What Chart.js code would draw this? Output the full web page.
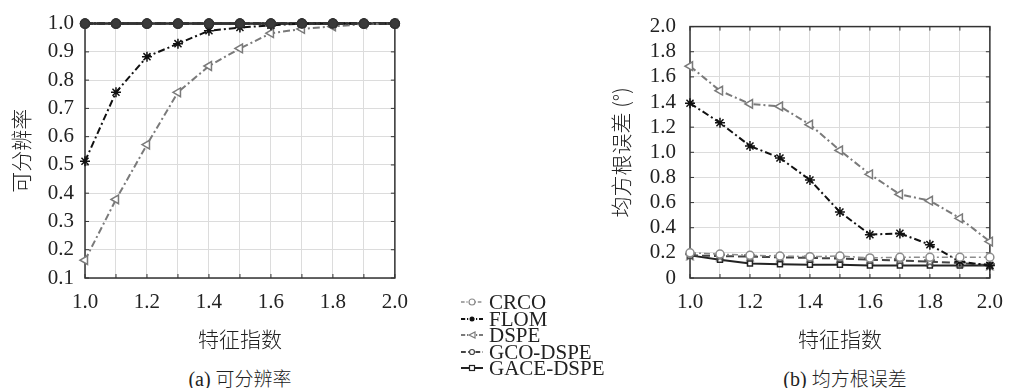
<!DOCTYPE html>
<html>
<head>
<meta charset="utf-8">
<script src="https://cdn.jsdelivr.net/npm/chart.js@4.4.0/dist/chart.umd.min.js"></script>
<style>
  body { margin: 0; background: #fff; width: 1015px; height: 388px; overflow: hidden; position: relative; }
  .box { position: absolute; top: 0; }
  .cap { position: absolute; top: 364px; font: 20px "Liberation Serif", serif; color: #222; white-space: nowrap; transform: translateX(-50%); }
  .cap span { font-family: "Noto Sans CJK SC", sans-serif; font-size: 19px; font-weight: 300; }
  #legend { position: absolute; left: 460px; top: 294px; font: 21px/16.5px "Liberation Serif", serif; color: #222; }
  #legend div { height: 16.5px; display: flex; align-items: center; }
  #legend svg { margin-right: 5px; }
</style>
</head>
<body>
<div class="box" style="left:0;width:420px;height:360px"><canvas id="res-chart"></canvas></div>
<div class="box" style="left:590px;width:425px;height:360px"><canvas id="rmse-chart"></canvas></div>
<div class="cap" style="left:240px">(a) <span>可分辨率</span></div>
<div class="cap" style="left:845px">(b) <span>均方根误差</span></div>
<div id="legend"></div>
<script>
var xValues = [1.0, 1.1, 1.2, 1.3, 1.4, 1.5, 1.6, 1.7, 1.8, 1.9, 2.0];
var seriesNames = ['CRCO', 'FLOM', 'DSPE', 'GCO-DSPE', 'GACE-DSPE'];

// (a) resolution probability
var resCRCO = [1, 1, 1, 1, 1, 1, 1, 1, 1, 1, 1];
var resFLOM = [0.513, 0.757, 0.883, 0.929, 0.975, 0.986, 0.994, 1, 1, 1, 1];
var resDSPE = [0.163, 0.378, 0.572, 0.757, 0.85, 0.912, 0.966, 0.981, 0.99, 0.998, 1];
var resGCO = [1, 1, 1, 1, 1, 1, 1, 1, 1, 1, 1];
var resGACE = [1, 1, 1, 1, 1, 1, 1, 1, 1, 1, 1];

// (b) RMSE in degrees
var rmseCRCO = [0.20, 0.19, 0.18, 0.175, 0.17, 0.175, 0.16, 0.165, 0.165, 0.165, 0.165];
var rmseFLOM = [1.39, 1.235, 1.05, 0.955, 0.78, 0.525, 0.345, 0.355, 0.265, 0.13, 0.10];
var rmseDSPE = [1.685, 1.49, 1.385, 1.365, 1.22, 1.015, 0.825, 0.665, 0.615, 0.475, 0.29];
var rmseGCO = [0.18, 0.175, 0.17, 0.165, 0.16, 0.155, 0.145, 0.14, 0.13, 0.12, 0.10];
var rmseGACE = [0.18, 0.145, 0.115, 0.11, 0.105, 0.105, 0.10, 0.10, 0.10, 0.10, 0.10];

var latin = '"Liberation Serif", serif';
var cjk = '"Noto Sans CJK SC", sans-serif';

function starImage(color) {
	var c = document.createElement('canvas');
	c.width = 11; c.height = 11;
	var g = c.getContext('2d');
	g.beginPath();
	for (var i = 0; i < 10; i++) {
		var r = i % 2 ? 2.2 : 5;
		var a = -Math.PI / 2 + i * Math.PI / 5;
		g.lineTo(5.5 + r * Math.cos(a), 5.5 + r * Math.sin(a));
	}
	g.closePath();
	g.fillStyle = '#fff';
	g.fill();
	g.strokeStyle = color;
	g.lineWidth = 1.3;
	g.stroke();
	return c;
}

var styles = [
	{ color: '#8c8c8c', width: 1.5, dash: [6, 3, 2, 3], point: 'circle', radius: 4, fill: '#fff', rot: 0 },
	{ color: '#111', width: 2, dash: [7, 3, 2, 3], point: 'star', radius: 5, fill: '#111', rot: 0 },
	{ color: '#7a7a7a', width: 2, dash: [7, 3, 2, 3], point: 'triangle', radius: 5, fill: '#fff', rot: -90 },
	{ color: '#444', width: 2, dash: [8, 4], point: starImage('#444'), radius: 5, fill: '#fff', rot: 0 },
	{ color: '#222', width: 2, dash: [], point: 'rect', radius: 3.5, fill: '#fff', rot: 0 }
];

function makeDatasets(lists, overlapDark) {
	return lists.map(function (vals, i) {
		var s = styles[i];
		// in panel (a) three curves sit on top of each other at 1.0, the stacked marks read as dark dots
		var dark = overlapDark && (i === 0 || i === 3 || i === 4);
		return {
			label: seriesNames[i],
			data: vals.map(function (v, j) { return { x: xValues[j], y: v }; }),
			borderColor: dark ? '#333' : s.color,
			borderWidth: dark ? 2.5 : s.width,
			borderDash: s.dash,
			pointStyle: dark ? 'circle' : s.point,
			pointRadius: dark ? 4.5 : s.radius,
			pointRotation: s.rot,
			pointBorderColor: dark ? '#333' : s.color,
			pointBackgroundColor: dark ? '#3a3a3a' : s.fill,
			pointBorderWidth: 1.5,
			tension: 0,
			clip: false,
			fill: false
		};
	});
}

// full frame and inward tick marks
var framePlugin = {
	id: 'frame',
	beforeDatasetsDraw: function (chart) {
		var ctx = chart.ctx, a = chart.chartArea;
		ctx.save();
		ctx.strokeStyle = '#333';
		ctx.lineWidth = 1.5;
		ctx.strokeRect(a.left, a.top, a.right - a.left, a.bottom - a.top);
		ctx.lineWidth = 1;
		chart.scales.x.ticks.forEach(function (t) {
			var px = chart.scales.x.getPixelForValue(t.value);
			ctx.beginPath();
			ctx.moveTo(px, a.bottom); ctx.lineTo(px, a.bottom - 4);
			ctx.moveTo(px, a.top); ctx.lineTo(px, a.top + 4);
			ctx.stroke();
		});
		chart.scales.y.ticks.forEach(function (t) {
			var py = chart.scales.y.getPixelForValue(t.value);
			ctx.beginPath();
			ctx.moveTo(a.left, py); ctx.lineTo(a.left + 4, py);
			ctx.moveTo(a.right, py); ctx.lineTo(a.right - 4, py);
			ctx.stroke();
		});
		ctx.restore();
	}
};

function makeChart(id, lists, yOpts) {
	return new Chart(id, {
		type: 'line',
		data: { datasets: makeDatasets(lists, yOpts.overlapDark) },
		options: {
			responsive: true,
			maintainAspectRatio: false,
			animation: false,
			layout: { padding: { top: yOpts.padTop, right: yOpts.padRight, bottom: 0, left: 0 } },
			plugins: { legend: { display: false }, tooltip: { enabled: false } },
			scales: {
				x: {
					type: 'linear',
					min: 1, max: 2,
					afterFit: function (s) { s.height = 82; },
					grid: { color: '#dcdcdc', drawTicks: false },
					border: { display: false },
					ticks: {
						stepSize: 0.1, autoSkip: false, maxRotation: 0, padding: 12,
						color: '#222', font: { family: latin, size: 21 },
						callback: function (v) {
							var k = Math.round(v * 10);
							return k % 2 === 0 ? (k / 10).toFixed(1) : '';
						}
					},
					title: { display: true, text: '特征指数', color: '#222', font: { family: cjk, size: 21, weight: 300 }, padding: { top: 0, bottom: 8 } }
				},
				y: {
					min: yOpts.min, max: yOpts.max,
					afterFit: function (s) { s.width = yOpts.width; },
					grid: { color: '#dcdcdc', drawTicks: false },
					border: { display: false },
					ticks: {
						stepSize: yOpts.step, padding: yOpts.tickPad, autoSkip: false,
						color: '#222', font: { family: latin, size: 21 },
						callback: yOpts.fmt
					},
					title: { display: true, text: yOpts.title, color: '#222', font: { family: cjk, size: 21, weight: 300 }, padding: { top: yOpts.titlePad, bottom: 0 } }
				}
			}
		},
		plugins: [framePlugin]
	});
}

makeChart('res-chart', [resCRCO, resFLOM, resDSPE, resGCO, resGACE], {
	min: 0.1, max: 1.0, step: 0.1, width: 85, tickPad: 11, padTop: 21, padRight: 25,
	title: '可分辨率', titlePad: 8, overlapDark: true,
	fmt: function (v) { return v.toFixed(1); }
});

makeChart('rmse-chart', [rmseCRCO, rmseFLOM, rmseDSPE, rmseGCO, rmseGACE], {
	min: 0, max: 2, step: 0.2, width: 100, tickPad: 14, padTop: 21, padRight: 16,
	title: '均方根误差 (°)', titlePad: 18, overlapDark: false,
	fmt: function (v) { return v === 0 ? '0' : v.toFixed(1); }
});

// legend between the two panels
var legend = document.getElementById('legend');
seriesNames.forEach(function (name, i) {
	var s = styles[i];
	var row = document.createElement('div');
	var dash = s.dash.length ? s.dash.map(function (d) { return d * 0.6; }).join(',') : 'none';
	var mark;
	if (i === 0) mark = '<circle cx="12" cy="8" r="3" fill="#fff" stroke="' + s.color + '" stroke-width="1.2"/>';
	else if (i === 1) mark = '<circle cx="12" cy="8" r="2.5" fill="#111"/>';
	else if (i === 2) mark = '<polygon points="9,8 15,5 15,11" fill="#fff" stroke="' + s.color + '" stroke-width="1.2"/>';
	else if (i === 3) mark = '<circle cx="12" cy="8" r="2.5" fill="#fff" stroke="' + s.color + '" stroke-width="1.2"/>';
	else mark = '<rect x="9.5" y="5.5" width="5" height="5" fill="#fff" stroke="' + s.color + '" stroke-width="1.2"/>';
	row.innerHTML = '<svg width="24" height="16"><line x1="1" y1="8" x2="23" y2="8" stroke="' + s.color +
		'" stroke-width="' + s.width + '" stroke-dasharray="' + dash + '"/>' + mark + '</svg>' + name;
	legend.appendChild(row);
});
</script>
</body>
</html>
